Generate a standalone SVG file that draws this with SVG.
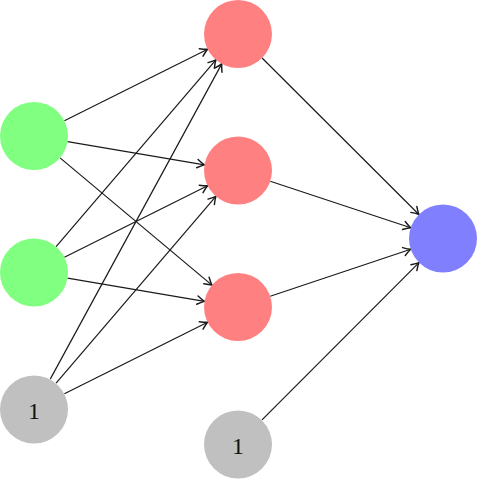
<svg xmlns="http://www.w3.org/2000/svg" width="477" height="480" viewBox="0 0 477 480">
<style>
.e{stroke:#1a1a1a;stroke-width:1.2;fill:none;marker-end:url(#arr)}
.g{fill:#80ff80}.r{fill:#ff8080}.b{fill:#8080ff}.k{fill:#c0c0c0}
.t{font-family:"Liberation Serif","DejaVu Serif",serif;font-size:24px;fill:#111;text-anchor:middle}
</style>
<defs>
<marker id="arr" markerUnits="userSpaceOnUse" markerWidth="12" markerHeight="12" viewBox="-8 -5 10 10" refX="0" refY="0" orient="auto">
<path d="M-6,-3.5 Q-2,-0.8 0,0 Q-2,0.8 -6,3.5" fill="none" stroke="#1a1a1a" stroke-width="1.2" stroke-linecap="round"/>
</marker>
</defs>
<rect width="477" height="480" fill="#fff"/>
<g id="connectors">
<line class="e" x1="64.41" y1="120.8" x2="207.59" y2="49.2"/>
<line class="e" x1="67.52" y1="141.67" x2="204.48" y2="164.83"/>
<line class="e" x1="60.06" y1="157.84" x2="211.94" y2="285.16"/>
<line class="e" x1="56.1" y1="246.66" x2="215.9" y2="59.84"/>
<line class="e" x1="64.41" y1="257.3" x2="207.59" y2="185.7"/>
<line class="e" x1="67.52" y1="278.17" x2="204.48" y2="301.33"/>
<line class="e" x1="50.25" y1="379.13" x2="221.75" y2="63.87"/>
<line class="e" x1="56.1" y1="383.16" x2="215.9" y2="196.34"/>
<line class="e" x1="64.41" y1="393.8" x2="207.59" y2="322.2"/>
<line class="e" x1="262.07" y1="58.01" x2="418.93" y2="214.49"/>
<line class="e" x1="270.27" y1="181.2" x2="410.73" y2="227.8"/>
<line class="e" x1="270.25" y1="296.22" x2="410.75" y2="249.28"/>
<line class="e" x1="262.01" y1="419.93" x2="418.99" y2="262.57"/>
</g>
<g id="in1"><circle class="g" cx="34" cy="136" r="34"/></g>
<g id="in2"><circle class="g" cx="34" cy="272.5" r="34"/></g>
<g id="bias1"><circle class="k" cx="34" cy="409.5" r="34"/><text class="t" x="34" y="419">1</text></g>
<g id="h1"><circle class="r" cx="238" cy="34" r="34"/></g>
<g id="h2"><circle class="r" cx="238" cy="170.5" r="34"/></g>
<g id="h3"><circle class="r" cx="238" cy="307" r="34"/></g>
<g id="bias2"><circle class="k" cx="238" cy="444.5" r="34"/><text class="t" x="238" y="454">1</text></g>
<g id="out"><circle class="b" cx="443" cy="238.5" r="34"/></g>
</svg>
